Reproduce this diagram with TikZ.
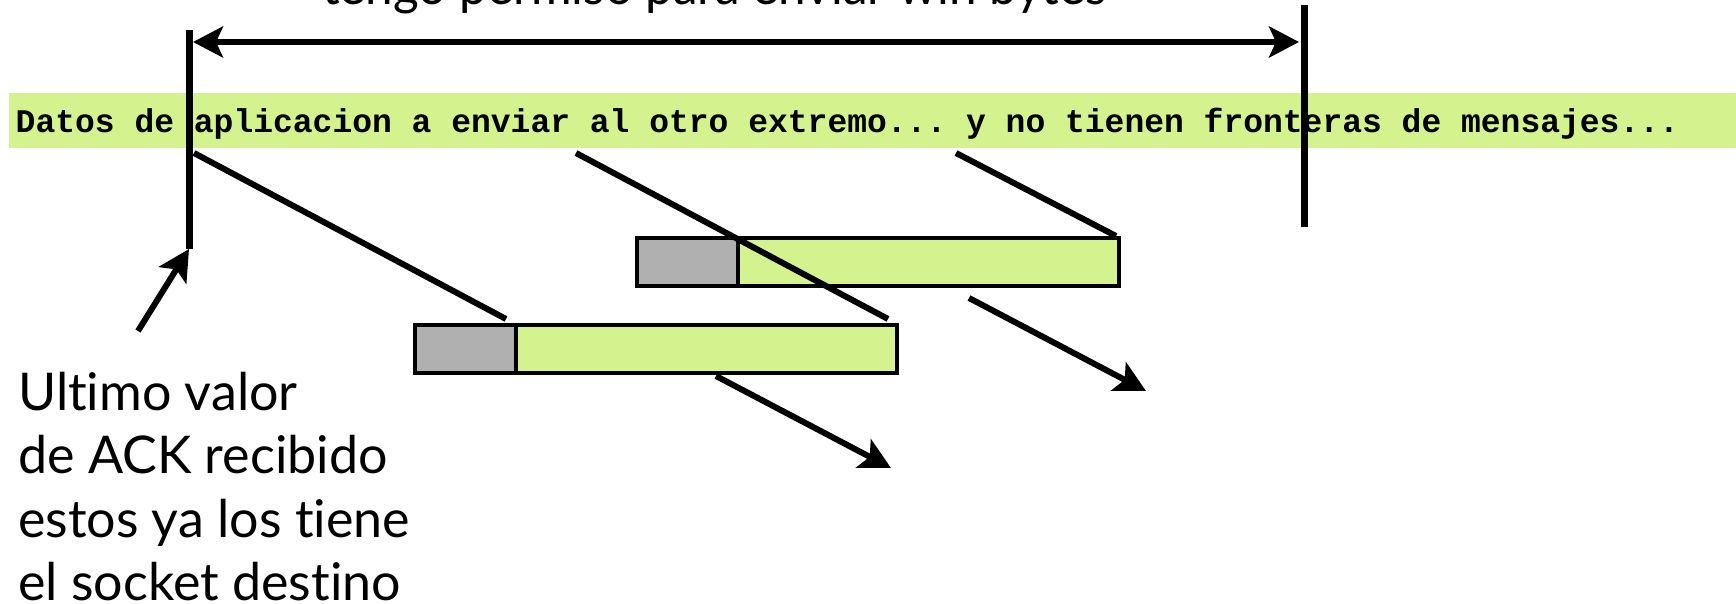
\documentclass[tikz,border=0pt]{standalone}
\usepackage{fontspec}
\setmainfont{Lato}[Ligatures={NoCommon,NoRare}]
\setmonofont{Liberation Mono}
\usetikzlibrary{arrows.meta}
\definecolor{bandgreen}{RGB}{212,242,142}
\definecolor{hdrgray}{RGB}{176,176,176}
\begin{document}
\begin{tikzpicture}[x=1pt,y=-1pt,
  thick line/.style={line width=6pt},
  vbar/.style={line width=7pt},
  tipped/.style={-{Stealth[length=31pt,width=32pt,inset=7pt]}},
  both tipped/.style={{Stealth[length=30pt,width=31pt,inset=7pt]}-{Stealth[length=30pt,width=31pt,inset=7pt]}},
  seghdr/.style={draw,line width=4pt,fill=hdrgray,minimum width=101pt,minimum height=48pt,inner sep=0pt,outer sep=0pt},
  segdata/.style={draw,line width=4pt,fill=bandgreen,minimum width=381pt,minimum height=48pt,inner sep=0pt,outer sep=0pt},
  big/.style={font=\fontsize{52}{63.5}\selectfont,inner sep=0pt,anchor=base west},
  mono/.style={font=\fontsize{33}{40}\ttfamily\bfseries,inner sep=0pt,anchor=base west}
]
\useasboundingbox (0,0) rectangle (1736,604);
\clip (0,0) rectangle (1736,604);
% data band
\node[fill=bandgreen,minimum width=1727pt,minimum height=55pt,inner sep=0pt,anchor=north west] (band) at (9,93) {};
\node[mono] (bandtext) at (15.5,133) {Datos de aplicacion a enviar al otro extremo... y no tienen fronteras de mensajes...};
% window limits
\coordinate (lt) at (189,30);
\coordinate (lb) at (189,249);
\coordinate (rt) at (1304,5);
\coordinate (rb) at (1304,227);
\draw[vbar] (lt) -- (lb);
\draw[vbar] (rt) -- (rb);
\coordinate (wl) at (193,42);
\coordinate (wr) at (1299,42);
\draw[thick line,both tipped] (wl) -- (wr);
\node[big] (win) at (322,5) {\scalebox{0.95}[1]{tengo permiso para enviar win bytes}};
% segments
\node[seghdr] (h1) at (465.5,349) {};
\node[segdata,anchor=west] (d1) at (h1.east) {};
\node[seghdr] (h2) at (687.5,262) {};
\node[segdata,anchor=west] (d2) at (h2.east) {};
% diagonal lines
\coordinate (a1) at (194,153);
\coordinate (a2) at (506,319);
\coordinate (b1) at (576,153);
\coordinate (b2) at (888,319);
\coordinate (c1) at (956,153);
\coordinate (c2) at (1116,236);
\draw[thick line] (a1) -- (a2);
\draw[thick line] (b1) -- (b2);
\draw[thick line] (c1) -- (c2);
\coordinate (e1) at (969,298);
\coordinate (e2) at (1146,391);
\coordinate (f1) at (716,376);
\coordinate (f2) at (891,468);
\draw[thick line,tipped] (e1) -- (e2);
\draw[thick line,tipped] (f1) -- (f2);
% ack arrow and label
\coordinate (k1) at (138,331);
\draw[thick line,tipped] (k1) -- (lb);
\node[big] (t1) at (18,410) {Ultimo valor};
\node[big] (t2) at (18,473) {de ACK recibido};
\node[big] (t3) at (18,537) {estos ya los tiene};
\node[big] (t4) at (18,600) {el socket destino};
\end{tikzpicture}
\end{document}
